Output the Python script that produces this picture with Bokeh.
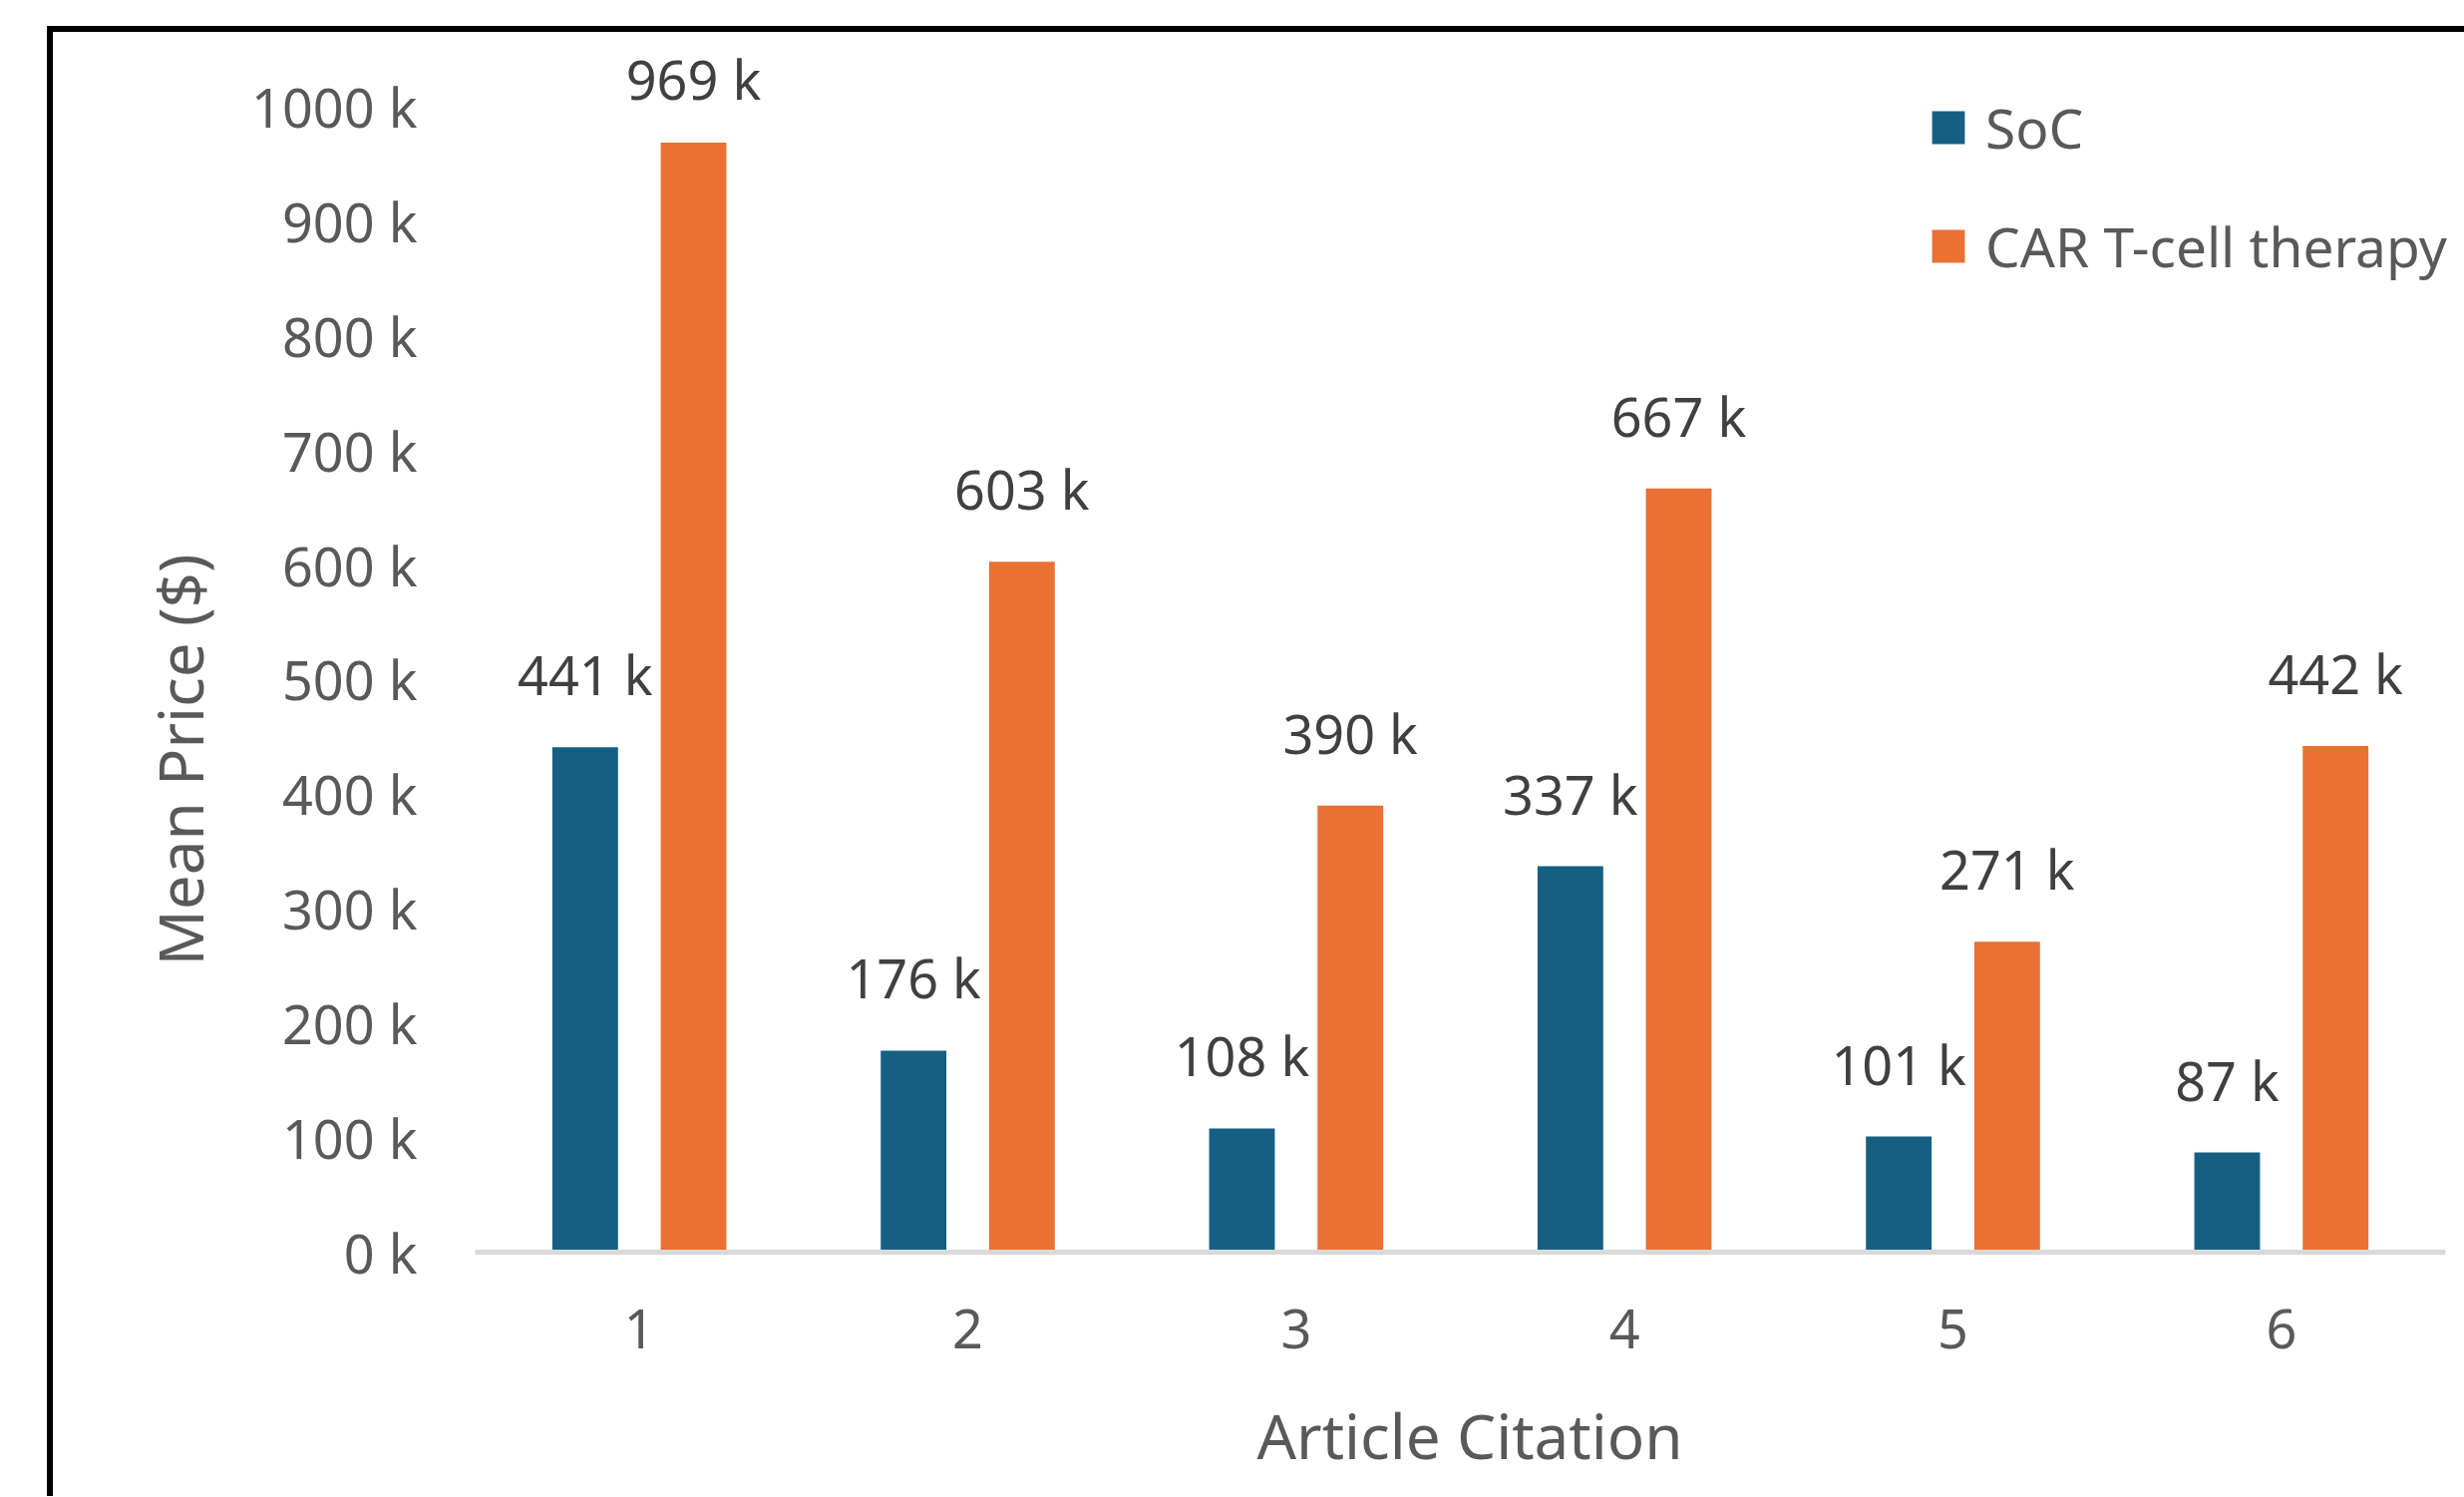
from bokeh.plotting import figure
from bokeh.models import ColumnDataSource, Range1d, FixedTicker, Title
from bokeh.embed import file_html
from bokeh.resources import INLINE

# ---- data ----
categories = ["1", "2", "3", "4", "5", "6"]
soc_k = [441, 176, 108, 337, 101, 87]
car_k = [969, 603, 390, 667, 271, 442]
series_names = ["SoC", "CAR T-cell therapy"]
y_ticks_k = [0, 100, 200, 300, 400, 500, 600, 700, 800, 900, 1000]
y_tick_labels = ["0 k", "100 k", "200 k", "300 k", "400 k", "500 k",
                 "600 k", "700 k", "800 k", "900 k", "1000 k"]
x_title = "Article Citation"
y_title = "Mean Price ($)"

# ---- style ----
FONT = "Noto Sans"
SOC_COLOR = "#156082"
CAR_COLOR = "#E97132"
AXIS_TEXT = "#595959"
LABEL_TEXT = "#404040"

OFF = 0.165       # dodge of each series from the category centre
W = 0.2           # bar width (category units)
LABEL_GAP = 63.6  # data units above bar top
LABEL_CAP = 1024.6

n = len(categories)
centers = [i + 0.5 for i in range(n)]

src = ColumnDataSource(dict(
    xs=[c - OFF for c in centers],
    xc=[c + OFF for c in centers],
    soc=soc_k,
    car=car_k,
    soc_ly=[min(v + LABEL_GAP, LABEL_CAP) for v in soc_k],
    car_ly=[min(v + LABEL_GAP, LABEL_CAP) for v in car_k],
    soc_t=[f"{v} k" for v in soc_k],
    car_t=[f"{v} k" for v in car_k],
))

PX_PER_CAT = 1976 / n
x_end = n + 19 / PX_PER_CAT

p = figure(
    x_range=Range1d(0, x_end),
    y_range=Range1d(0, 1060),
    frame_width=1995, frame_height=1217,
    min_border_left=476, min_border_right=0,
    min_border_top=38, min_border_bottom=245,
    output_backend="svg", toolbar_location=None,
    background_fill_color="white", border_fill_color=None,
)
p.styles = {
    "background-color": "white",
    "box-shadow": "inset 47px 26px 0 0 white, inset 53px 32px 0 0 black",
}
p.outline_line_color = None
p.xgrid.visible = False
p.ygrid.visible = False

p.vbar(x="xs", top="soc", width=W, source=src,
       fill_color=SOC_COLOR, line_color=None, legend_label=series_names[0])
p.vbar(x="xc", top="car", width=W, source=src,
       fill_color=CAR_COLOR, line_color=None, legend_label=series_names[1])

for xcol, ycol, tcol in [("xs", "soc_ly", "soc_t"), ("xc", "car_ly", "car_t")]:
    p.text(x=xcol, y=ycol, text=tcol, source=src,
           text_align="center", text_baseline="alphabetic",
           text_font={"value": FONT}, text_font_size="54px", text_color=LABEL_TEXT)

# x axis
xa = p.xaxis[0]
xa.ticker = FixedTicker(ticks=centers)
xa.major_label_overrides = dict(zip(centers, categories))
xa.bounds = (0, n)
xa.axis_line_color = "#D9D9D9"
xa.axis_line_width = 5
xa.major_tick_line_color = None
xa.minor_tick_line_color = None
xa.major_label_text_font = FONT
xa.major_label_text_font_size = "54px"
xa.major_label_text_color = AXIS_TEXT
xa.major_label_standoff = 51
xa.axis_label = x_title
xa.axis_label_text_font = FONT
xa.axis_label_text_font_size = "62px"
xa.axis_label_text_font_style = "normal"
xa.axis_label_text_color = AXIS_TEXT
xa.axis_label_standoff = 42

# y axis
ya = p.yaxis[0]
ya.ticker = FixedTicker(ticks=y_ticks_k)
ya.major_label_overrides = dict(zip(y_ticks_k, y_tick_labels))
ya.axis_line_color = None
ya.major_tick_line_color = None
ya.minor_tick_line_color = None
ya.major_tick_out = 0
ya.major_tick_in = 0
ya.major_label_text_font = FONT
ya.major_label_text_font_size = "54px"
ya.major_label_text_color = AXIS_TEXT
ya.major_label_standoff = 58

# y axis title (as a side title so it can be offset along the axis)
p.add_layout(Title(text=y_title, align="left", offset=287, standoff=56,
                   vertical_align="bottom", text_font=FONT, text_font_size="62px",
                   text_font_style="normal", text_color=AXIS_TEXT), "left")

# legend
leg = p.legend[0]
leg.location = (1933 - 476, 1255 - 286)
leg.orientation = "vertical"
leg.glyph_width = 41
leg.glyph_height = 41
leg.label_standoff = 17
leg.label_text_font = FONT
leg.label_text_font_size = "55px"
leg.label_text_color = AXIS_TEXT
leg.label_height = 80
leg.spacing = 39
leg.padding = 0
leg.margin = 0
leg.border_line_color = None
leg.background_fill_alpha = 0

open("out.html", "w").write(file_html(p, INLINE))
